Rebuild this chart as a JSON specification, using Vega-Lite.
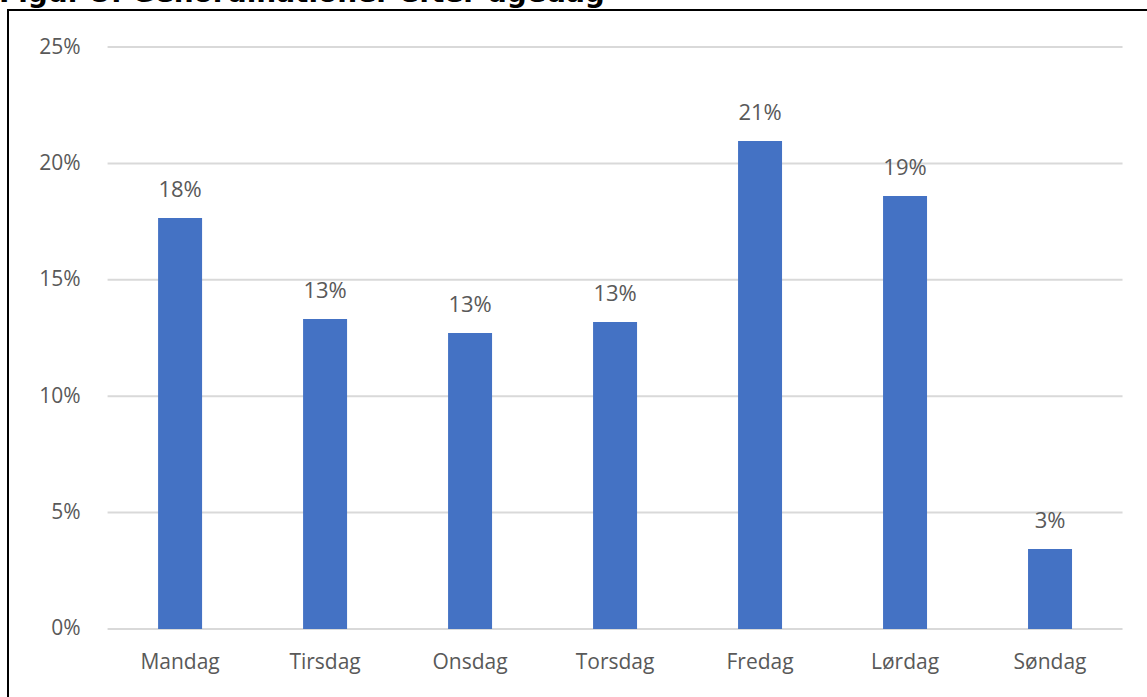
{
  "$schema": "https://vega.github.io/schema/vega-lite/v6.json",
  "autosize": "none",
  "width": 1141,
  "height": 690,
  "padding": {"left": 8, "top": 10, "right": 0, "bottom": 0},
  "background": "white",
  "title": {
    "text": "Figur 5: Genordinationer efter ugedag",
    "anchor": "start",
    "frame": "group",
    "font": "DejaVu Sans",
    "fontWeight": "bold",
    "fontSize": 28,
    "color": "#000000",
    "baseline": "alphabetic",
    "offset": 0,
    "dy": 20,
    "dx": -9
  },
  "config": {
    "view": {"stroke": "#000000", "strokeWidth": 2},
    "font": "Open Sans"
  },
  "datasets": {
    "bars": [
      {"dag": "Mandag", "andel": 0.1765},
      {"dag": "Tirsdag", "andel": 0.1332},
      {"dag": "Onsdag", "andel": 0.1271},
      {"dag": "Torsdag", "andel": 0.1319},
      {"dag": "Fredag", "andel": 0.2096},
      {"dag": "Lørdag", "andel": 0.186},
      {"dag": "Søndag", "andel": 0.0344}
    ],
    "grid": [
      {"v": 0}, {"v": 0.05}, {"v": 0.1}, {"v": 0.15}, {"v": 0.2}, {"v": 0.25}
    ]
  },
  "layer": [
    {
      "data": {"name": "grid"},
      "mark": {"type": "rule", "color": "#d9d9d9", "strokeWidth": 2},
      "encoding": {
        "y": {"field": "v", "type": "quantitative"},
        "x": {"datum": "Mandag", "bandPosition": -1.148, "type": "nominal"},
        "x2": {"datum": "Søndag", "bandPosition": 2.148}
      }
    },
    {
      "data": {"name": "bars"},
      "mark": {"type": "bar", "color": "#4472c4"},
      "encoding": {
        "x": {"field": "dag", "type": "nominal", "sort": null},
        "y": {"field": "andel", "type": "quantitative"}
      }
    },
    {
      "data": {"name": "bars"},
      "mark": {"type": "text", "baseline": "alphabetic", "dy": -21, "fontSize": 22, "color": "#595959"},
      "encoding": {
        "x": {"field": "dag", "type": "nominal", "sort": null},
        "y": {"field": "andel", "type": "quantitative"},
        "text": {"field": "andel", "type": "quantitative", "format": ".0%"}
      }
    }
  ],
  "encoding": {
    "x": {
      "scale": {"domain": ["Mandag", "Tirsdag", "Onsdag", "Torsdag", "Fredag", "Lørdag", "Søndag"], "paddingInner": 0.6966, "paddingOuter": 0.783, "align": 0.661},
      "axis": {"title": null, "orient": "bottom", "offset": -71, "domain": false, "ticks": false, "grid": false, "labelPadding": 22, "labelFontSize": 21, "labelColor": "#595959", "labelAngle": 0}
    },
    "y": {
      "scale": {"domain": [-0.0305, 0.2659], "nice": false, "zero": false},
      "axis": {"title": null, "values": [0, 0.05, 0.1, 0.15, 0.2, 0.25], "format": ".0%", "offset": -72, "labelPadding": 0, "domain": false, "ticks": false, "grid": false, "labelFontSize": 21, "labelColor": "#595959"}
    }
  }
}
